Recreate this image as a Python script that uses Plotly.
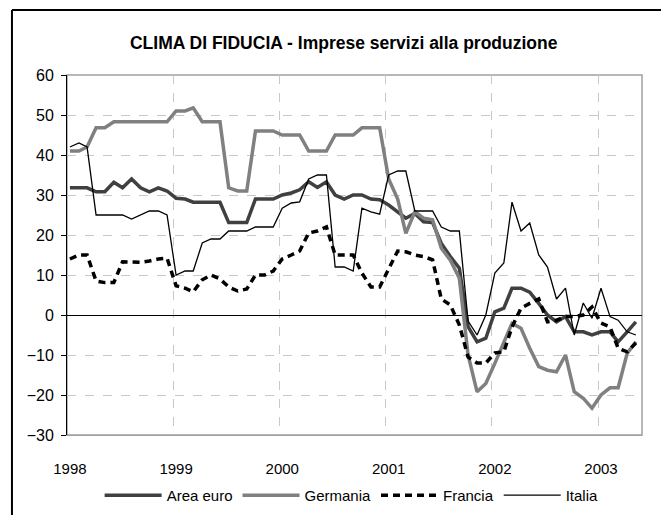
import pandas as pd
import plotly.graph_objects as go

# Monthly observations, Jan 1998 - May 2003
months = pd.date_range("1998-01-01", "2003-05-01", freq="MS") + pd.Timedelta(days=10)

area_euro = [31.8, 31.8, 31.8, 30.8, 30.8, 33.2, 31.8, 34.0, 31.8, 30.8, 31.8, 31.0,
             29.2, 29.0, 28.2, 28.2, 28.2, 28.2, 23.1, 23.1, 23.1, 29.0, 29.0, 29.0,
             30.0, 30.5, 31.3, 33.3, 31.9, 33.3, 30.0, 29.0, 30.0, 30.0, 29.0, 28.8,
             27.5, 25.8, 24.2, 25.4, 23.3, 23.1, 17.9, 14.6, 11.7, -2.9, -6.7, -5.8,
             0.8, 1.7, 6.7, 6.7, 5.7, 2.9, 0.0, -1.7, -0.4, -4.2, -4.2, -5.0,
             -4.2, -4.2, -6.7, -4.2, -1.7]
germania = [41.0, 41.0, 42.0, 46.8, 46.8, 48.3, 48.3, 48.3, 48.3, 48.3, 48.3, 48.3,
            51.0, 51.0, 51.8, 48.3, 48.3, 48.3, 31.8, 31.0, 31.0, 46.0, 46.0, 46.0,
            45.0, 45.0, 45.0, 41.0, 41.0, 41.0, 45.0, 45.0, 45.0, 46.8, 46.8, 46.8,
            34.0, 29.0, 20.4, 25.8, 24.2, 23.8, 16.7, 13.7, 9.2, -10.0, -19.2, -17.1,
            -12.1, -7.1, -2.1, -3.3, -8.3, -12.9, -13.8, -14.2, -10.0, -19.2, -20.8, -23.3,
            -20.0, -18.2, -18.2, -9.6, -6.7]
francia = [14.0, 15.0, 15.0, 8.5, 8.1, 8.1, 13.3, 13.2, 13.2, 13.5, 14.0, 14.2,
           7.3, 6.7, 5.8, 8.8, 10.0, 9.0, 7.0, 6.0, 6.5, 10.0, 10.0, 11.0,
           14.0, 15.0, 16.0, 20.5, 21.0, 22.0, 15.0, 15.0, 15.0, 10.5, 7.0, 7.0,
           11.5, 16.0, 15.8, 15.0, 14.6, 13.8, 4.0, 2.5, -2.5, -10.5, -12.0, -12.0,
           -9.5, -9.2, -3.0, 1.7, 2.9, 4.0, -1.7, -1.3, -0.4, -0.4, 0.0, 2.0,
           -2.0, -3.0, -8.3, -9.2, -7.0]
italia = [42.0, 43.0, 42.0, 25.0, 25.0, 25.0, 25.0, 24.0, 25.0, 26.0, 26.0, 25.0,
          10.0, 11.0, 11.0, 18.0, 19.0, 19.0, 21.0, 21.0, 21.0, 22.0, 22.0, 22.0,
          26.7, 28.0, 28.3, 34.0, 35.0, 35.0, 12.0, 12.0, 11.0, 26.7, 25.8, 25.2,
          35.0, 36.0, 36.0, 26.0, 26.0, 26.0, 22.0, 21.0, 21.0, -1.5, -5.0, 0.0,
          10.5, 13.0, 28.2, 21.0, 23.0, 15.0, 12.0, 4.0, 6.7, -5.0, 3.0, -0.8,
          6.7, -0.4, -1.3, -4.2, -5.0]

year_labels = ["1998", "1999", "2000", "2001", "2002", "2003"]
y_ticks = [-30, -20, -10, 0, 10, 20, 30, 40, 50, 60]

FONT = "Liberation Sans, Arial, sans-serif"

series = [
    ("Area euro", area_euro, dict(color="#404040", width=3.5)),
    ("Germania", germania, dict(color="#808080", width=3.5)),
    ("Francia", francia, dict(color="#000000", width=3.5, dash="7px,5px")),
    ("Italia", italia, dict(color="#000000", width=1.3)),
]

fig = go.Figure()
for name, vals, line in series:
    fig.add_trace(go.Scatter(x=months, y=vals, name=name, mode="lines", line=line))

jan_points = [months[12 * k] for k in range(len(year_labels))]
year_starts = [pd.Timestamp(f"{y}-01-01") for y in year_labels[1:]]

fig.update_layout(
    width=661, height=515,
    margin=dict(l=67, r=19, t=75, b=80, autoexpand=False),
    paper_bgcolor="white", plot_bgcolor="white",
    font=dict(family=FONT, size=15, color="black"),
    title=dict(text="<b>CLIMA DI FIDUCIA - Imprese servizi alla produzione</b>",
               x=0.52, xanchor="center", y=0.916, yanchor="middle",
               font=dict(family=FONT, size=17.5, color="black")),
    showlegend=True,
    legend=dict(orientation="h", x=0.495, xanchor="center",
                yref="container", y=0.038, yanchor="middle",
                font=dict(family=FONT, size=15), itemwidth=57, tracegroupgap=0,
                bgcolor="rgba(0,0,0,0)"),
    xaxis=dict(type="date", range=["1998-01-01", "2003-06-01"],
               tickvals=jan_points, ticktext=year_labels, showgrid=False,
               ticks="", showline=True, linecolor="#a0a0a0", linewidth=1,
               tickfont=dict(family=FONT, size=15), ticklabelstandoff=20,
               minor=dict(tickvals=year_starts, showgrid=True, gridcolor="#c8c8c8",
                          griddash="dash", gridwidth=1, ticks="")),
    yaxis=dict(range=[-30, 60], tickvals=y_ticks, showgrid=True, gridcolor="#c8c8c8",
               griddash="dash", gridwidth=1, zeroline=True, zerolinecolor="black",
               zerolinewidth=1, showline=True, linecolor="black", linewidth=1,
               ticks="outside", ticklen=5, tickcolor="black", ticklabelstandoff=4,
               tickfont=dict(family=FONT, size=16)),
    shapes=[
        dict(type="rect", xref="paper", yref="paper", x0=0, y0=0, x1=1, y1=1,
             line=dict(color="#a0a0a0", width=1.5), layer="below"),
        dict(type="line", xref="paper", yref="paper", x0=-0.0957, x1=1.04,
             y0=1.1806, y1=1.1806, line=dict(color="black", width=2)),
        dict(type="line", xref="paper", yref="paper", x0=-0.0957, x1=-0.0957,
             y0=1.1806, y1=-0.25, line=dict(color="black", width=2)),
    ],
)

fig.write_html(
    "out.html",
    config={"displayModeBar": False},
    post_script="document.body.style.margin='0';document.body.style.overflow='hidden';",
)
